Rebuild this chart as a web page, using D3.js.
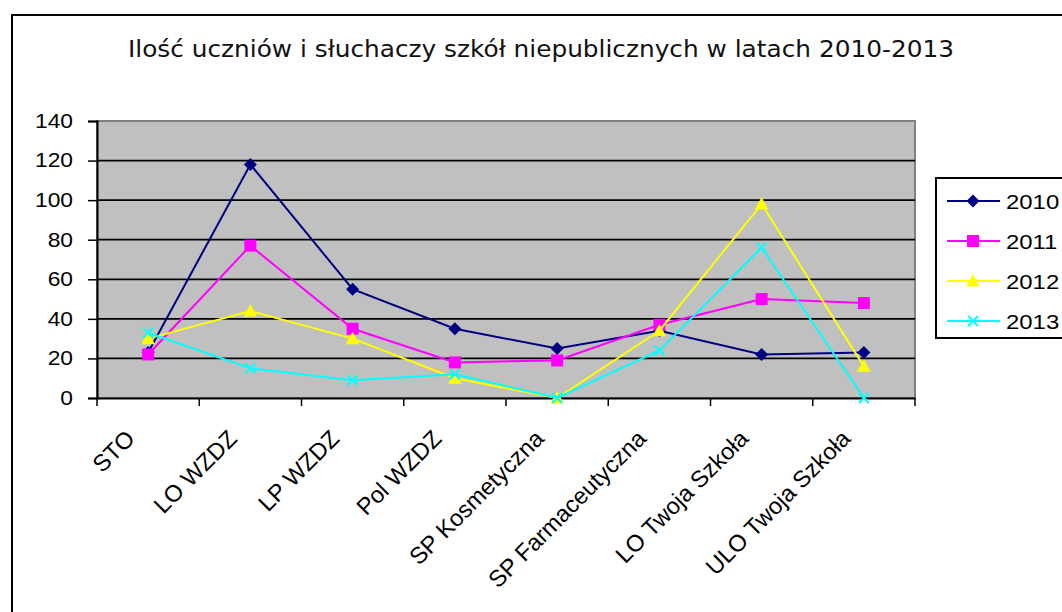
<!DOCTYPE html>
<html><head><meta charset="utf-8">
<script src="https://cdn.jsdelivr.net/npm/d3@7"></script>
<style>body{margin:0;background:#fff}svg{display:block}</style>
</head><body>
<svg id="c" width="1062" height="612"></svg>
<script>
const categories = ["STO","LO WZDZ","LP WZDZ","Pol WZDZ","SP Kosmetyczna","SP Farmaceutyczna","LO Twoja Szkoła","ULO Twoja Szkoła"];
const years = ["2010","2011","2012","2013"];
const v2010 = [23,118,55,35,25,34,22,23];
const v2011 = [22,77,35,18,19,37,50,48];
const v2012 = [30,44,30,10,0,34,98,16];
const v2013 = [33,15,9,12,0,24,76,0];
const yTicks = [0,20,40,60,80,100,120,140];
const title = "Ilość uczniów i słuchaczy szkół niepublicznych w latach 2010-2013";

const seriesValues = [v2010, v2011, v2012, v2013];
const colors = ["#000080","#FF00FF","#FFFF00","#00FFFF"];
const markers = ["diamond","square","triangle","x"];

const svg = d3.select("#c");
const L = 97, R = 915, T = 121, B = 398;

svg.append("rect").attr("x",12).attr("y",15).attr("width",1200).attr("height",800)
  .attr("fill","#fff").attr("stroke","#000").attr("stroke-width",2);

svg.append("text").attr("x",128).attr("y",57).attr("text-anchor","start")
  .attr("font-family","DejaVu Sans").attr("font-size",22.5).attr("fill","#111")
  .attr("textLength",826).attr("lengthAdjust","spacingAndGlyphs").text(title);

const x = d3.scaleBand().domain(categories).range([L,R]);
const y = d3.scaleLinear().domain([0,140]).range([B,T]);

svg.append("rect").attr("x",L).attr("y",T).attr("width",R-L).attr("height",B-T)
  .attr("fill","#C0C0C0").attr("stroke","#808080").attr("stroke-width",2);

// grid
svg.append("g").selectAll("line").data(yTicks.filter(d=>d>0 && d<140)).join("line")
  .attr("x1",L).attr("x2",R).attr("y1",d=>y(d)).attr("y2",d=>y(d))
  .attr("stroke","#000").attr("stroke-width",1.8);

// y axis
const ya = svg.append("g").attr("transform",`translate(${L},0)`)
  .call(d3.axisLeft(y).tickValues(yTicks).tickSize(9).tickPadding(0));
ya.select(".domain").attr("stroke","#000").attr("stroke-width",2);
ya.selectAll(".tick line").attr("stroke","#000").attr("stroke-width",1.5);
ya.selectAll("text").attr("x",-21).attr("transform","scale(1.14,1)")
  .attr("font-family","Liberation Sans").attr("font-size",20).attr("fill","#000");

// x axis
const xa = svg.append("g").attr("transform",`translate(0,${B})`)
  .call(d3.axisBottom(x).tickSize(0).tickFormat(""));
xa.select(".domain").attr("stroke","#000").attr("stroke-width",2);
const bounds = categories.map(c=>x(c)).concat([R]);
svg.append("g").selectAll("line").data(bounds).join("line")
  .attr("x1",d=>d).attr("x2",d=>d).attr("y1",B).attr("y2",B+8)
  .attr("stroke","#000").attr("stroke-width",1.5);

svg.append("g").selectAll("text").data(categories).join("text")
  .attr("transform",d=>`translate(${x(d)+x.bandwidth()/2-12},${B+42}) rotate(-45)`)
  .attr("text-anchor","end")
  .attr("font-family","Liberation Sans").attr("font-size",23.5).attr("fill","#000")
  .text(d=>d);

function drawMarker(g, type, color, cx, cy){
  if(type==="diamond"){
    g.append("path").attr("d",`M${cx},${cy-6.5}L${cx+6.5},${cy}L${cx},${cy+6.5}L${cx-6.5},${cy}Z`).attr("fill",color);
  } else if(type==="square"){
    g.append("rect").attr("x",cx-6).attr("y",cy-6).attr("width",12).attr("height",12).attr("fill",color);
  } else if(type==="triangle"){
    g.append("path").attr("d",`M${cx},${cy-7}L${cx+6.8},${cy+5.5}L${cx-6.8},${cy+5.5}Z`).attr("fill",color);
  } else {
    g.append("path").attr("d",`M${cx-5},${cy-5}L${cx+5},${cy+5}M${cx+5},${cy-5}L${cx-5},${cy+5}`).attr("stroke",color).attr("stroke-width",2);
  }
}

const line = d3.line().x((d,i)=>x(categories[i])+x.bandwidth()/2).y(d=>y(d));
seriesValues.forEach((vals,si)=>{
  const g = svg.append("g");
  g.append("path").datum(vals).attr("d",line).attr("fill","none")
    .attr("stroke",colors[si]).attr("stroke-width",2);
  vals.forEach((v,i)=>drawMarker(g, markers[si], colors[si], x(categories[i])+x.bandwidth()/2, y(v)));
});

// legend
const lg = svg.append("g");
lg.append("rect").attr("x",936).attr("y",178).attr("width",200).attr("height",160)
  .attr("fill","#fff").attr("stroke","#000").attr("stroke-width",2);
years.forEach((yr,i)=>{
  const cy = 201 + i*40;
  lg.append("line").attr("x1",947).attr("x2",1000).attr("y1",cy).attr("y2",cy)
    .attr("stroke",colors[i]).attr("stroke-width",2);
  drawMarker(lg, markers[i], colors[i], 973, cy);
  lg.append("text").attr("x",1006/1.14).attr("y",cy).attr("dy","0.36em").attr("transform","scale(1.14,1)")
    .attr("font-family","Liberation Sans").attr("font-size",21).attr("fill","#000").text(yr);
});
</script>
</body></html>
